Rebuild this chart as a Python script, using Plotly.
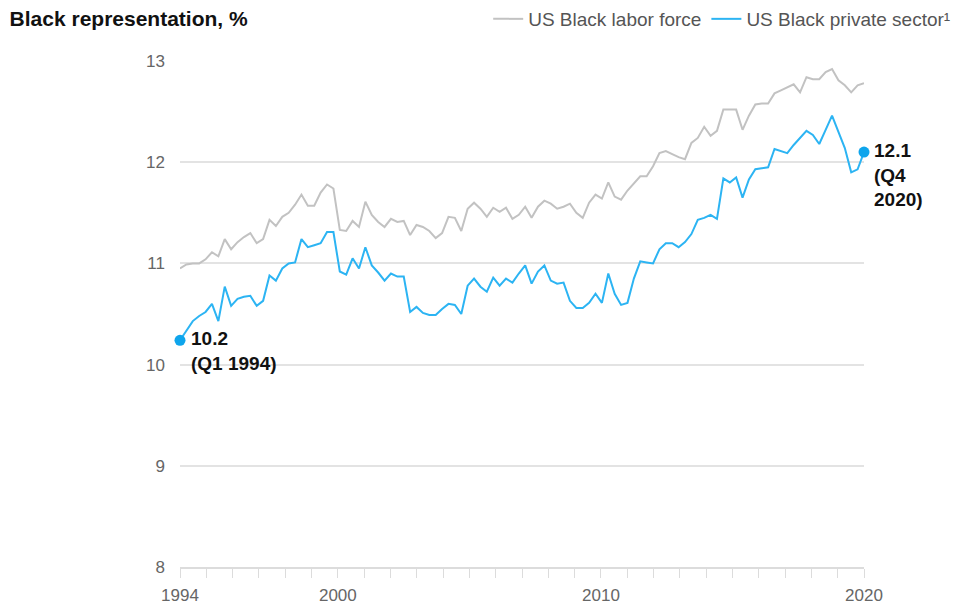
import numpy as np
import plotly.graph_objects as go

start_year = 1994
end_year = 2020
n_quarters = 108  # Q1 1994 .. Q4 2020

labor_force = [
    10.95, 10.99, 11.00, 11.00, 11.04, 11.11, 11.07, 11.24, 11.14, 11.21,
    11.26, 11.30, 11.20, 11.24, 11.43, 11.37, 11.46, 11.50, 11.58, 11.68,
    11.57, 11.57, 11.70, 11.78, 11.74, 11.33, 11.32, 11.42, 11.36, 11.61,
    11.48, 11.41, 11.36, 11.44, 11.41, 11.42, 11.28, 11.38, 11.36, 11.32,
    11.25, 11.30, 11.46, 11.45, 11.32, 11.54, 11.60, 11.54, 11.46, 11.55,
    11.51, 11.55, 11.44, 11.48, 11.56, 11.45, 11.56, 11.62, 11.59, 11.54,
    11.56, 11.59, 11.50, 11.45, 11.60, 11.68, 11.64, 11.80, 11.66, 11.63,
    11.72, 11.79, 11.86, 11.86, 11.96, 12.09, 12.11, 12.08, 12.05, 12.03,
    12.19, 12.24, 12.35, 12.26, 12.31, 12.52, 12.52, 12.52, 12.32, 12.46,
    12.57, 12.58, 12.58, 12.68, 12.71, 12.74, 12.77, 12.69, 12.84, 12.82,
    12.82, 12.89, 12.92, 12.81, 12.76, 12.69, 12.76, 12.78,
]

private_sector = [
    10.24, 10.33, 10.43, 10.48, 10.52, 10.60, 10.43, 10.77, 10.58, 10.65,
    10.67, 10.68, 10.58, 10.63, 10.88, 10.83, 10.95, 11.00, 11.01, 11.24,
    11.16, 11.18, 11.20, 11.31, 11.31, 10.92, 10.89, 11.05, 10.95, 11.16,
    10.98, 10.91, 10.83, 10.90, 10.87, 10.87, 10.52, 10.57, 10.51, 10.49,
    10.49, 10.55, 10.60, 10.59, 10.50, 10.78, 10.85, 10.77, 10.72, 10.86,
    10.78, 10.85, 10.81, 10.90, 10.98, 10.80, 10.92, 10.98, 10.83, 10.80,
    10.81, 10.63, 10.56, 10.56, 10.61, 10.70, 10.61, 10.90, 10.70, 10.59,
    10.61, 10.85, 11.02, 11.01, 11.00, 11.14, 11.20, 11.20, 11.16, 11.21,
    11.29, 11.43, 11.45, 11.48, 11.44, 11.84, 11.80, 11.85, 11.65, 11.83,
    11.93, 11.94, 11.95, 12.13, 12.11, 12.09, 12.17, 12.24, 12.31, 12.27,
    12.18, 12.32, 12.46, 12.30, 12.14, 11.90, 11.93, 12.10,
]

y_ticks = [8, 9, 10, 11, 12, 13]
x_label_years = [1994, 2000, 2010, 2020]

x = np.linspace(start_year, end_year, n_quarters)
years = list(range(start_year, end_year + 1))
ticktext = [str(y) if y in x_label_years else "" for y in years]

GRAY = "#c2c2c2"
BLUE = "#2cb4f3"
DOT = "#0ea5ec"
FONT = "Liberation Sans"

fig = go.Figure()
fig.add_trace(go.Scatter(x=x, y=labor_force, mode="lines", name="US Black labor force",
                         line=dict(color=GRAY, width=2), hoverinfo="skip"))
fig.add_trace(go.Scatter(x=x, y=private_sector, mode="lines", name="US Black private sector¹",
                         line=dict(color=BLUE, width=2), hoverinfo="skip"))
fig.add_trace(go.Scatter(x=[x[0], x[-1]], y=[private_sector[0], private_sector[-1]],
                         mode="markers", marker=dict(color=DOT, size=11),
                         showlegend=False, hoverinfo="skip", cliponaxis=False))

fig.add_annotation(x=x[0], y=private_sector[0], xref="x", yref="y",
                   text="<b>10.2</b><br><b>(Q1 1994)</b>", showarrow=False,
                   xanchor="left", yanchor="top", align="left", xshift=9, yshift=14,
                   font=dict(family=FONT, size=19, color="#111"))
fig.add_annotation(x=x[-1], y=private_sector[-1], xref="x", yref="y",
                   text="<b>12.1</b><br><b>(Q4</b><br><b>2020)</b>", showarrow=False,
                   xanchor="left", yanchor="top", align="left", xshift=8, yshift=14,
                   font=dict(family=FONT, size=19, color="#111"))

fig.update_layout(
    width=961, height=606,
    margin=dict(l=180, r=97, t=61, b=39, autoexpand=False),
    paper_bgcolor="white", plot_bgcolor="white",
    font=dict(family=FONT, size=17, color="#666"),
    title=dict(text="<b>Black representation, %</b>", x=0.01, xanchor="left",
               y=0.97, yanchor="middle", font=dict(family=FONT, size=21, color="#111")),
    showlegend=True,
    legend=dict(orientation="h", xref="container", x=0.508, xanchor="left",
                yref="container", y=1.0, yanchor="top",
                font=dict(family=FONT, size=19, color="#555"),
                itemwidth=30, bgcolor="rgba(0,0,0,0)", tracegroupgap=0),
    xaxis=dict(range=[start_year, end_year], tickmode="array", tickvals=years,
               ticktext=ticktext, ticks="outside", ticklen=9, tickcolor="#dcdcdc",
               showgrid=False, zeroline=False, showline=True, linecolor="#dcdcdc",
               linewidth=1.5, tickfont=dict(size=17, color="#666"),
               automargin=False, ticklabelstandoff=3),
    yaxis=dict(range=[8, 13], tickvals=y_ticks, showgrid=True, gridcolor="#e3e3e3",
               gridwidth=1.5, zeroline=False, showline=False, ticks="",
               ticklabelstandoff=14, tickfont=dict(size=17, color="#666"),
               automargin=False),
)

fig.write_html("out.html", config={"displayModeBar": False},
               post_script="document.body.style.margin='0';document.body.style.overflow='hidden';")
